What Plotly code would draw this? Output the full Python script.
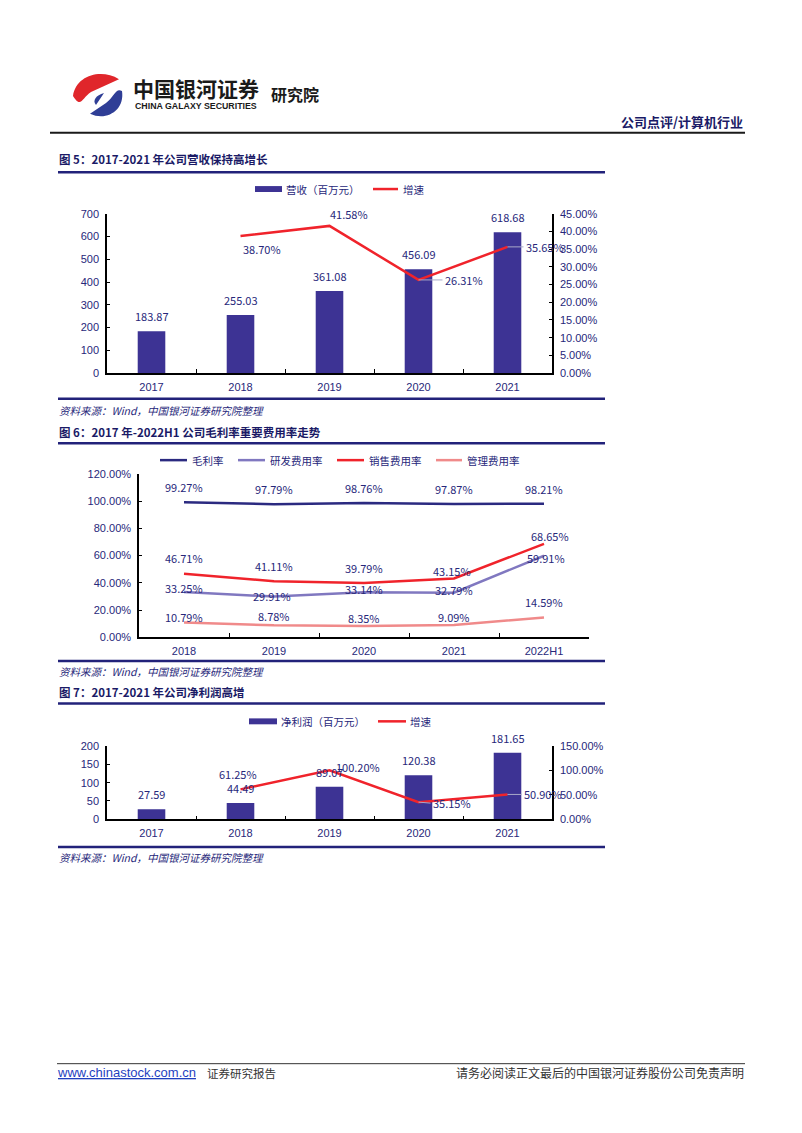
import plotly.graph_objects as go

W, H = 802, 1133


def px(x):
    return x / W


def py(y):
    return 1 - y / H


# ---------------- data ----------------
years5 = ["2017", "2018", "2019", "2020", "2021"]
revenue = [183.87, 255.03, 361.08, 456.09, 618.68]
revenue_growth = [None, 38.70, 41.58, 26.31, 35.65]

years6 = ["2018", "2019", "2020", "2021", "2022H1"]
gross_margin = [99.27, 97.79, 98.76, 97.87, 98.21]
rnd_rate = [33.25, 29.91, 33.14, 32.79, 59.91]
sales_rate = [46.71, 41.11, 39.79, 43.15, 68.65]
admin_rate = [10.79, 8.78, 8.35, 9.09, 14.59]

years7 = ["2017", "2018", "2019", "2020", "2021"]
net_profit = [27.59, 44.49, 89.07, 120.38, 181.65]
profit_growth = [None, 61.25, 100.20, 35.15, 50.90]

# ---------------- styles ----------------
BAR = "#3D3394"
RED = "#F0232B"
NAVY = "#2B2A80"
LAV = "#8078C0"
PINK = "#F08A8A"
TXT = "#27277A"
TITLE = "#1A1A66"
RULE = "#22227A"
LAT = "Liberation Sans, Arial, sans-serif"
CJK = "Noto Sans CJK SC, sans-serif"

fig = go.Figure()

# chart 1
fig.add_trace(go.Bar(x=years5, y=revenue, marker=dict(color=BAR, line=dict(width=0)),
                     xaxis="x", yaxis="y", showlegend=False, hoverinfo="skip"))
fig.add_trace(go.Scatter(x=years5, y=revenue_growth, mode="lines", line=dict(color=RED, width=2.5),
                         xaxis="x", yaxis="y2", showlegend=False, hoverinfo="skip"))
# chart 2
for vals, col in [(gross_margin, NAVY), (rnd_rate, LAV), (sales_rate, RED), (admin_rate, PINK)]:
    fig.add_trace(go.Scatter(x=years6, y=vals, mode="lines", line=dict(color=col, width=2.5),
                             xaxis="x2", yaxis="y3", showlegend=False, hoverinfo="skip"))
# chart 3
fig.add_trace(go.Bar(x=years7, y=net_profit, marker=dict(color=BAR, line=dict(width=0)),
                     xaxis="x3", yaxis="y4", showlegend=False, hoverinfo="skip"))
fig.add_trace(go.Scatter(x=years7, y=profit_growth, mode="lines", line=dict(color=RED, width=2.5),
                         xaxis="x3", yaxis="y5", showlegend=False, hoverinfo="skip"))

tickfont = dict(family=LAT, size=11, color=TXT)


def xax(domain, anchor):
    return dict(domain=domain, anchor=anchor, type="category", range=[-0.5, 4.5], showline=True,
                linecolor="black", linewidth=1.5, ticks="inside", ticklen=4, tickcolor="black",
                tickson="boundaries", tickfont=tickfont, showgrid=False, zeroline=False,
                fixedrange=True, ticklabelstandoff=3)


def yax(domain, anchor, rng, dtick, side="left", pct=False, overlay=None):
    d = dict(anchor=anchor, range=rng, dtick=dtick, showline=True, linecolor="black", linewidth=1.5,
             ticks="inside", ticklen=3, tickcolor="black", tickfont=tickfont, showgrid=False,
             zeroline=False, side=side, fixedrange=True, ticklabelstandoff=4)
    if overlay:
        d["overlaying"] = overlay
    else:
        d["domain"] = domain
    if pct:
        d["tickformat"] = ".2f"
        d["ticksuffix"] = "%"
    return d


d1x = [px(107), px(552)]
d1y = [py(371), py(210)]
d2x = [px(139), px(589)]
d2y = [py(638), py(473)]
d3x = [px(107), px(552)]
d3y = [py(822), py(748)]

layout = dict(
    width=W, height=H, margin=dict(l=0, r=0, t=0, b=0), autosize=False,
    paper_bgcolor="white", plot_bgcolor="white", bargap=0.69,
    xaxis=xax(d1x, "y"),
    yaxis=yax(d1y, "x", [0, 700], 100),
    yaxis2=yax(None, "x", [0, 45], 5, side="right", pct=True, overlay="y"),
    xaxis2=xax(d2x, "y3"),
    yaxis3=yax(d2y, "x2", [0, 120], 20, pct=True),
    xaxis3=xax(d3x, "y4"),
    yaxis4=yax(d3y, "x3", [0, 200], 50),
    yaxis5=yax(None, "x3", [0, 150], 50, side="right", pct=True, overlay="y4"),
)
fig.update_layout(**layout)

ann = []
shapes = []
lab_font = dict(family=CJK, size=11, color=TXT)


def note(x, y, text, size=11, color=TXT, family=CJK, xanchor="left", yanchor="middle"):
    ann.append(dict(x=px(x), y=py(y), xref="paper", yref="paper", text=text, showarrow=False,
                    xanchor=xanchor, yanchor=yanchor, font=dict(family=family, size=size, color=color)))


def hline(x0, x1, y, color=RULE, width=2.5):
    shapes.append(dict(type="line", xref="paper", yref="paper", x0=px(x0), x1=px(x1),
                       y0=py(y), y1=py(y), line=dict(color=color, width=width)))


# ---------- bar value labels (x given as category index) ----------
for xs, vals, xr, yr in [(years5, revenue, "x", "y"), (years7, net_profit, "x3", "y4")]:
    for i, v in enumerate(vals):
        ann.append(dict(x=i, y=v, xref=xr, yref=yr, text=f"{v:.2f}", showarrow=False,
                        yanchor="bottom", yshift=5, font=lab_font))


def growth_labels(vals, styles, xr, yr):
    for i, (v, st) in enumerate(zip(vals, styles)):
        if v is None:
            continue
        a = dict(x=i, y=v, xref=xr, yref=yr, text=f"{v:.2f}%", font=lab_font)
        if "arrow" in st:
            a.update(showarrow=True, ax=st["arrow"], ay=st.get("ay", 0), arrowhead=0, arrowwidth=1,
                     arrowcolor="#A8A8C8", xanchor="left", yanchor="middle", standoff=0)
        else:
            a.update(showarrow=False, **st)
        ann.append(a)


g1_style = [None,
            dict(xanchor="left", yanchor="top", xshift=0, yshift=-3),
            dict(xanchor="left", yanchor="bottom", xshift=-2, yshift=2),
            dict(arrow=24),
            dict(arrow=16)]
growth_labels(revenue_growth, g1_style, "x", "y2")

g3_style = [None,
            dict(xanchor="center", yanchor="bottom", xshift=-3, yshift=5),
            dict(xanchor="left", yanchor="middle", xshift=4, yshift=3),
            dict(arrow=12, ay=1),
            dict(arrow=14)]
growth_labels(profit_growth, g3_style, "x3", "y5")

# ---------- chart 2 labels ----------
c2_shift = {
    "gross": ([15, 15, 15, 15, 15], [0, 0, 0, 0, 0]),
    "rnd": ([4, 1, 3, 3, -2], [0, -2, 0, 0, 2]),
    "sales": ([16, 15, 15, 8, 8], [0, 0, 0, -2, 6]),
    "admin": ([6, 9, 8, 8, 15], [0, 0, 0, 0, 0]),
}
for key, vals in [("gross", gross_margin), ("rnd", rnd_rate), ("sales", sales_rate), ("admin", admin_rate)]:
    ys, xs = c2_shift[key]
    for i, (v, ysh, xsh) in enumerate(zip(vals, ys, xs)):
        ann.append(dict(x=i, y=v, xref="x2", yref="y3", text=f"{v:.2f}%", showarrow=False,
                        yanchor="middle", yshift=ysh, xshift=xsh, font=lab_font))


# ---------- header ----------
def path(cmds):
    out = []
    for cmd in cmds:
        op = cmd[0]
        nums = cmd[1:]
        pts = []
        for i in range(0, len(nums), 2):
            pts.append(f"{px(nums[i]):.5f},{py(nums[i + 1]):.5f}")
        out.append(op + " " + " ".join(pts))
    return " ".join(out) + " Z"


red_logo = path([("M", 119, 74), ("C", 101, 63, 76, 70, 73, 91, 72, 102, 79, 110, 88, 112),
                 ("C", 81, 104, 82, 93, 91, 87, 99, 82, 111, 80, 119, 74)])
blue_logo = path([("M", 90, 109), ("C", 107, 117, 125, 105, 122, 86, 121, 80, 117, 75, 112, 73),
                  ("C", 116, 82, 114, 92, 106, 98, 100, 102, 95, 105, 90, 109)])
blue_inner = path([("M", 96, 100), ("C", 92, 96, 96, 90, 104, 88, 100, 92, 98, 96, 96, 100)])
shapes.append(dict(type="path", xref="paper", yref="paper", path=red_logo, fillcolor="#E0262B",
                   line=dict(width=0)))
shapes.append(dict(type="path", xref="paper", yref="paper", path=blue_logo, fillcolor="#2F3E96",
                   line=dict(width=0)))
shapes.append(dict(type="path", xref="paper", yref="paper", path=blue_inner, fillcolor="#2F3E96",
                   line=dict(width=0)))

note(131, 83, "<b>中国银河证券</b>", size=21, color="#1A1A1A")
note(133, 101, "<b>CHINA GALAXY SECURITIES</b>", size=8.8, color="#1A1A1A", family=LAT)
note(269, 89, "<b>研究院</b>", size=16, color="#1A1A1A")
note(745, 117, "<b>公司点评/计算机行业</b>", size=13, color=TITLE, xanchor="right")
hline(50, 745, 128, color="#1A1A1A", width=2)

# ---------- section titles / rules / sources ----------
SRC = "<i>资料来源：Wind，中国银河证券研究院整理</i>"
TS = 11.5
note(57, 155, "<b>图 5：2017-2021 年公司营收保持高增长</b>", size=TS, color=TITLE)
hline(58, 605, 168)
hline(58, 605, 397)
note(57, 409, SRC, size=10.5, color=TXT)
note(57, 431, "<b>图 6：2017 年-2022H1 公司毛利率重要费用率走势</b>", size=TS, color=TITLE)
hline(58, 605, 442)
hline(58, 605, 662)
note(57, 673, SRC, size=10.5, color=TXT)
note(57, 693, "<b>图 7：2017-2021 年公司净利润高增</b>", size=TS, color=TITLE)
hline(58, 605, 705)
hline(58, 605, 850)
note(57, 861, SRC, size=10.5, color=TXT)


# ---------- custom legends ----------
def bar_swatch(x0, x1, y):
    shapes.append(dict(type="rect", xref="paper", yref="paper", x0=px(x0), x1=px(x1),
                       y0=py(y + 3), y1=py(y - 3), fillcolor=BAR, line=dict(width=0)))


def line_swatch(x0, x1, y, col):
    shapes.append(dict(type="line", xref="paper", yref="paper", x0=px(x0), x1=px(x1),
                       y0=py(y), y1=py(y), line=dict(color=col, width=2.5)))


LS = 10.5
bar_swatch(255, 282, 185)
note(284, 185, "营收（百万元）", size=LS)
line_swatch(373, 398, 185, RED)
note(401, 185, "增速", size=LS)

line_swatch(160, 187, 459, NAVY)
note(190, 459, "毛利率", size=LS)
line_swatch(238, 265, 459, LAV)
note(268, 459, "研发费用率", size=LS)
line_swatch(337, 364, 459, RED)
note(367, 459, "销售费用率", size=LS)
line_swatch(436, 462, 459, PINK)
note(465, 459, "管理费用率", size=LS)

bar_swatch(249, 277, 723)
note(279, 723, "净利润（百万元）", size=LS)
line_swatch(378, 406, 723, RED)
note(408, 723, "增速", size=LS)

# ---------- footer ----------
hline(57, 745, 1069, color="#333333", width=1)
note(55, 1078, "<u>www.chinastock.com.cn</u>", size=13, color="#1F3FBF", family=LAT)
note(205, 1078, "证券研究报告", size=11.5, color="#333333")
note(746, 1078, "请务必阅读正文最后的中国银河证券股份公司免责声明", size=12, color="#333333",
     xanchor="right")

fig.update_layout(annotations=ann, shapes=shapes)
fig.write_html("out.html")
